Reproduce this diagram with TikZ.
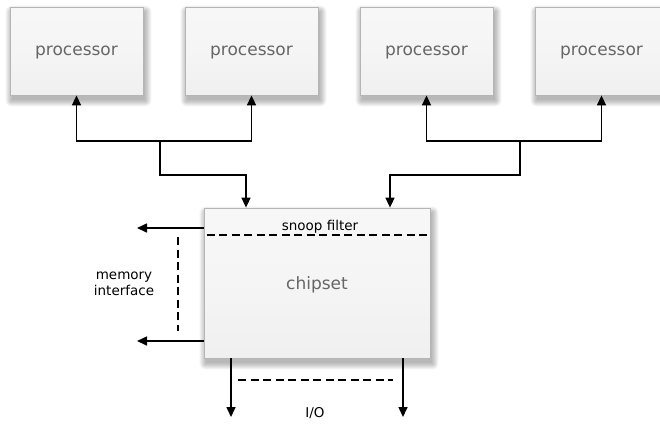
\documentclass[tikz,border=0pt]{standalone}
\usepackage{fontspec}
\setmainfont{DejaVu Sans}
\usetikzlibrary{arrows.meta}
\pgfdeclarelayer{bg}
\pgfsetlayers{bg,main}
\definecolor{boxline}{HTML}{B5B5B5}
\definecolor{boxtext}{HTML}{666666}
\tikzset{
  unitbox/.style={draw=boxline, line width=0.8pt, top color=white!97!black, bottom color=white!94!black, middle color=white!96!black,
    text=boxtext, inner sep=0pt, text depth=0pt},
  procbox/.style={unitbox, minimum width=133pt, minimum height=88pt, font=\fontsize{17}{19}\selectfont},
  chipbox/.style={unitbox, minimum width=226pt, minimum height=150pt, font=\fontsize{17}{19}\selectfont},
  wire/.style={line width=1.6pt, black},
  arr/.style={wire, -{Triangle[length=10pt,width=9pt]}},
  dsh/.style={line width=1.5pt, dash pattern=on 8pt off 4.5pt},
  lbl/.style={font=\fontsize{13.5}{16}\selectfont, text=black, inner sep=0pt, align=center},
}
\newcommand\boxshade[1]{%
  \begin{pgfonlayer}{bg}
  \foreach \d in {0,1,...,6}{
    \fill[black, opacity=0.045, rounded corners=\d pt]
      ([shift={(2-\d,5+\d)}]#1.south west) rectangle ([shift={(2+\d,5-\d)}]#1.north east);
  }
  \end{pgfonlayer}}
\begin{document}
\begin{tikzpicture}[x=1pt,y=-1pt]
\useasboundingbox (0,0) rectangle (660,424);
\clip (0,0) rectangle (660,424);
\begin{pgfonlayer}{bg}
\fill[white] (0,0) rectangle (660,424);
\end{pgfonlayer}
% processors
\node[procbox] (p1) at (76.5,51) {processor};
\node[procbox] (p2) at (251.5,51) {processor};
\node[procbox] (p3) at (426.5,51) {processor};
\node[procbox] (p4) at (601.5,51) {processor};
\foreach \n in {p1,p2,p3,p4}{\boxshade{\n}}
% chipset
\node[chipbox] (c) at (317,283) {chipset};
\boxshade{c}
\node[lbl] (sf) at (320,227) {snoop filter};
\draw[dsh] (c.west |- 0,235) ++(3,0) coordinate (sfa) -- (c.east |- sfa) ++(-5,0) coordinate (sfb);
% processor buses
\coordinate (j1) at (160,141);
\coordinate (j2) at (520,141);
\coordinate (k1) at (160,175);
\coordinate (k2) at (520,175);
\coordinate (t1) at (246,175);
\coordinate (t2) at (390,175);
\draw[arr] (j1) -| (p1.south);
\draw[arr] (j1) -| (p2.south);
\draw[arr] (j2) -| (p3.south);
\draw[arr] (j2) -| (p4.south);
\draw[arr] (j1) -- (k1) -- (t1) -- (t1 |- c.north);
\draw[arr] (j2) -- (k2) -- (t2) -- (t2 |- c.north);
% memory interface
\coordinate (m1) at (137,228);
\coordinate (m2) at (137,341);
\draw[arr] (c.west |- m1) -- (m1);
\draw[arr] (c.west |- m2) -- (m2);
\coordinate (md1) at (178,237);
\coordinate (md2) at (178,331);
\draw[dsh] (md1) -- (md2);
\node[lbl] (mi) at (124,284) {memory\\interface};
% I/O
\coordinate (io1) at (231,417);
\coordinate (io2) at (403,417);
\draw[arr] (io1 |- c.south) -- (io1);
\draw[arr] (io2 |- c.south) -- (io2);
\coordinate (iod1) at (238,380);
\coordinate (iod2) at (393,380);
\draw[dsh] (iod1) -- (iod2);
\node[lbl] (io) at (315,413) {I/O};
\end{tikzpicture}
\end{document}
